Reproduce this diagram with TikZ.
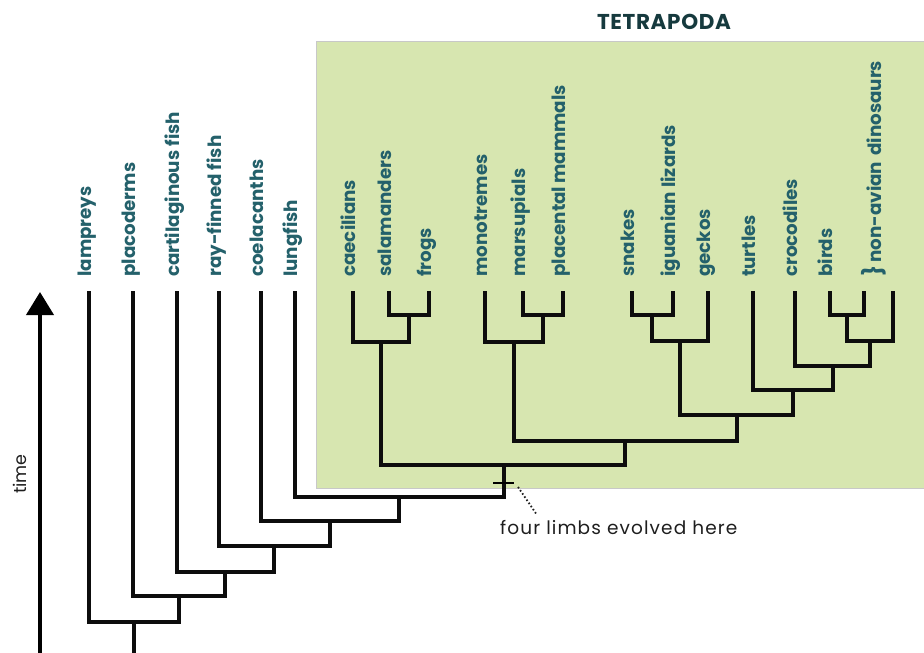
\documentclass[tikz,border=0pt]{standalone}
\usepackage{fontspec}
\usetikzlibrary{arrows.meta}
\setmainfont{Poppins}
\def\lblfont{\bfseries}
\definecolor{lblteal}{RGB}{36,97,107}
\definecolor{titleteal}{RGB}{22,58,62}
\definecolor{bggreen}{RGB}{215,230,176}
\definecolor{bdgray}{RGB}{200,200,200}
\definecolor{inkgray}{RGB}{30,30,30}
\tikzset{
  lbl/.style={rotate=90, anchor=mid west, inner sep=0pt, text=lblteal, font=\lblfont\fontsize{18.3}{18.3}\selectfont},
  br/.style={line width=3.5pt, draw=black!95, line join=miter},
}
\begin{document}
\begin{tikzpicture}[x=1pt,y=-1pt]
\useasboundingbox (0,0) rectangle (924,653);
% tetrapoda background
\draw[draw=bdgray, fill=bggreen, line width=0.8pt] (316,41) rectangle (935,488);
\node[font=\bfseries\fontsize{21.5}{21.5}\selectfont\addfontfeatures{LetterSpace=3}, text=titleteal, inner sep=0pt] (title) at (664,22) {TETRAPODA};

% tips
\foreach \n/\x in {la/89,pl/133,ca/177,rf/219,co/261,lu/295,cae/353,sal/389,fro/429,mon/485,mar/523,pla/563,sna/632,igu/673,gec/708,tur/753,cro/795,bir/830,dia/864,dib/893}
  \coordinate (t\n) at (\x,291);

% labels
\node[lbl] (Lla) at (89,277) {lampreys};
\node[lbl] (Lpl) at (133,277) {placoderms};
\node[lbl] (Lca) at (177,277) {cartilaginous fish};
\node[lbl] (Lrf) at (219,277) {ray-finned fish};
\node[lbl] (Lco) at (261,277) {coelacanths};
\node[lbl] (Llu) at (295,277) {lungfish};
\node[lbl] (Lcae) at (353,277) {caecilians};
\node[lbl] (Lsal) at (389,277) {salamanders};
\node[lbl] (Lfro) at (429,277) {frogs};
\node[lbl] (Lmon) at (485,277) {monotremes};
\node[lbl] (Lmar) at (523,277) {marsupials};
\node[lbl] (Lpla) at (563,277) {placental\,mammals};
\node[lbl] (Lsna) at (632,277) {snakes};
\node[lbl] (Ligu) at (673,277) {iguanian lizards};
\node[lbl] (Lgec) at (708,277) {geckos};
\node[lbl] (Ltur) at (753,277) {turtles};
\node[lbl] (Lcro) at (795,277) {crocodiles};
\node[lbl] (Lbir) at (830,277) {birds};
\node[lbl] (Ldin) at (879,277) {{\fontsize{22}{22}\selectfont\}}\,non-avian\,\,dinosaurs};

% internal nodes
\coordinate (nsf) at (409,315);
\coordinate (namph) at (381,342);
\coordinate (nmp) at (543,315);
\coordinate (nmam) at (514,342);
\coordinate (nsi) at (652,315);
\coordinate (nsqu) at (680,341);
\coordinate (nbd) at (847,315);
\coordinate (ndino) at (870,341);
\coordinate (narch) at (833,366);
\coordinate (narchel) at (793,390);
\coordinate (nsaur) at (737,415);
\coordinate (namn) at (625,441);
\coordinate (ntet) at (504,465);
\coordinate (nlt) at (399,497);
\coordinate (nsar) at (330,521);
\coordinate (nost) at (274,546);
\coordinate (ngna) at (225,572);
\coordinate (nplac) at (179,596);
\coordinate (nroot) at (134,622);
\coordinate (rootbot) at (134,665);

% branches
\draw[br] (tsal) |- (nsf) -| (tfro);
\draw[br] (tcae) |- (namph) -| (nsf);
\draw[br] (tmar) |- (nmp) -| (tpla);
\draw[br] (tmon) |- (nmam) -| (nmp);
\draw[br] (tsna) |- (nsi) -| (tigu);
\draw[br] (nsi) |- (nsqu) -| (tgec);
\draw[br] (tbir) |- (nbd) -| (tdia);
\draw[br] (nbd) |- (ndino) -| (tdib);
\draw[br] (tcro) |- (narch) -| (ndino);
\draw[br] (ttur) |- (narchel) -| (narch);
\draw[br] (nsqu) |- (nsaur) -| (narchel);
\draw[br] (nmam) |- (namn) -| (nsaur);
\draw[br] (namph) |- (ntet) -| (namn);
\draw[br] (tlu) |- (nlt) -| (ntet);
\draw[br] (tco) |- (nsar) -| (nlt);
\draw[br] (trf) |- (nost) -| (nsar);
\draw[br] (tca) |- (ngna) -| (nost);
\draw[br] (tpl) |- (nplac) -| (ngna);
\draw[br] (tla) |- (nroot) -| (nplac);
\draw[br] (nroot) -- (rootbot);

% four limbs marker
\coordinate (tickL) at (493,483);
\coordinate (tickR) at (514,483);
\draw[line width=2.5pt] (tickL) -- (tickR);
\node[font=\fontsize{18.5}{18.5}\selectfont\addfontfeatures{LetterSpace=6}, text=inkgray, anchor=west, inner sep=0pt] (limbs) at (500,528) {four limbs evolved here};
\coordinate (dotA) at (518,487);
\coordinate (dotB) at (537,515);
\draw[line width=1.8pt, dash pattern=on 1.6pt off 2.2pt, draw=inkgray] (dotA) -- (dotB);

% time arrow
\coordinate (tbot) at (40,665);
\coordinate (ttop) at (40,292);
\draw[line width=4pt, -{Triangle[length=23pt,width=27pt]}] (tbot) -- (ttop);
\node[rotate=90, font=\fontsize{17.5}{17.5}\selectfont, text=inkgray, inner sep=0pt] (time) at (20,474) {time};
\end{tikzpicture}
\end{document}
